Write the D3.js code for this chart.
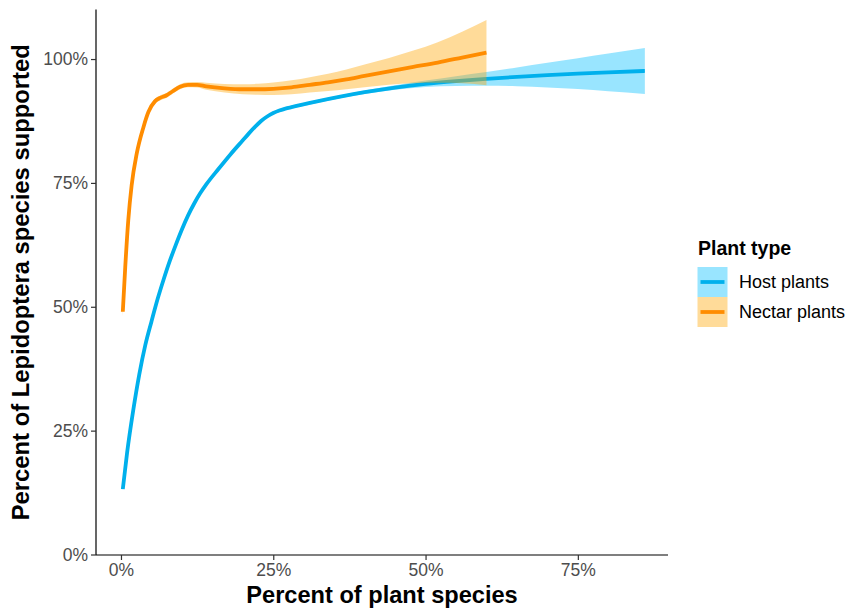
<!DOCTYPE html>
<html>
<head>
<meta charset="utf-8">
<script src="https://cdn.jsdelivr.net/npm/d3@7"></script>
<style>
  html, body { margin: 0; padding: 0; background: #fff; }
  svg { display: block; font-family: "Liberation Sans", Arial, Helvetica, sans-serif; }
</style>
</head>
<body>
<svg id="chart" width="852" height="610"></svg>
<script>
// ---- Data (percent values) ----
const hostX  = [0.3, 1, 2, 3, 4, 5, 6, 7, 8, 9, 10, 11, 12, 13, 14, 16, 18, 20, 21, 22, 23, 24, 25, 26, 27, 28, 32, 36, 40, 45, 50, 55, 60, 65, 70, 75, 80, 86];
const hostY  = [13.2, 20.5, 29, 36.3, 42.3, 47.0, 51.5, 55.5, 59.2, 62.5, 65.6, 68.4, 70.8, 72.9, 74.7, 77.8, 80.8, 83.6, 85.0, 86.3, 87.5, 88.4, 89.1, 89.6, 90.0, 90.3, 91.4, 92.4, 93.3, 94.25, 95.0, 95.55, 96.0, 96.4, 96.75, 97.05, 97.3, 97.6];
const hostLo = [12.9, 20.2, 28.7, 36.0, 42.0, 46.7, 51.2, 55.2, 58.9, 62.2, 65.3, 68.1, 70.5, 72.6, 74.4, 77.5, 80.5, 83.3, 84.7, 86.0, 87.2, 88.1, 88.8, 89.3, 89.7, 90.0, 91.1, 92.1, 92.95, 93.8, 94.35, 94.55, 94.6, 94.5, 94.25, 93.95, 93.5, 92.95];
const hostHi = [13.5, 20.8, 29.3, 36.6, 42.6, 47.3, 51.8, 55.8, 59.5, 62.8, 65.9, 68.7, 71.1, 73.2, 75.0, 78.1, 81.1, 83.9, 85.3, 86.6, 87.8, 88.7, 89.4, 89.9, 90.3, 90.6, 91.7, 92.7, 93.65, 94.7, 95.65, 96.55, 97.4, 98.3, 99.25, 100.15, 101.1, 102.25];

const nectarX  = [0.3, 0.7, 1.2, 1.75, 2.6, 3.7, 4.5, 5.6, 6.5, 7.5, 8.5, 9.7, 11, 12.5, 14, 17, 20, 22.5, 25, 28, 31, 34, 37, 40, 44, 48, 52, 56, 60];
const nectarY  = [49, 58, 67.5, 74.5, 81, 86.3, 89.3, 91.5, 92.2, 92.7, 93.5, 94.4, 94.8, 94.8, 94.5, 94.1, 93.9, 93.9, 94.0, 94.3, 94.8, 95.3, 95.9, 96.6, 97.5, 98.4, 99.3, 100.3, 101.3];
const nectarLo = [48.0, 57.2, 66.8, 73.9, 80.5, 85.8, 88.8, 91.0, 91.7, 92.2, 93.0, 93.9, 94.3, 94.25, 93.8, 93.25, 92.9, 92.8, 92.75, 92.9, 93.25, 93.55, 93.9, 94.3, 94.8, 95.1, 95.2, 95.1, 94.7];
const nectarHi = [50.0, 58.8, 68.2, 75.1, 81.5, 86.8, 89.8, 92.0, 92.7, 93.2, 94.0, 94.9, 95.3, 95.35, 95.2, 94.95, 94.9, 95.0, 95.25, 95.7, 96.35, 97.05, 97.9, 98.9, 100.2, 101.7, 103.4, 105.5, 107.9];

const seriesNames = ["Host plants", "Nectar plants"];
const xTicks = [0, 25, 50, 75];
const yTicks = [0, 25, 50, 75, 100];
const xDomain = [-4.1, 89.8];
const yDomain = [0, 110];

const lineColors = ["#00b0ec", "#ff8c00"];
const fillColors = ["#00bfff", "#ffa500"];

// ---- Build ----
const svg = d3.select("#chart");
const M = { left: 96, right: 668, top: 9.5, bottom: 555 };

const x = d3.scaleLinear().domain(xDomain).range([M.left, M.right]);
const y = d3.scaleLinear().domain(yDomain).range([554.5, M.top]);

const series = [
  { name: seriesNames[0], pts: hostX.map((v, i) => ({ x: v, y: hostY[i], lo: hostLo[i], hi: hostHi[i] })) },
  { name: seriesNames[1], pts: nectarX.map((v, i) => ({ x: v, y: nectarY[i], lo: nectarLo[i], hi: nectarHi[i] })) }
];

const area = d3.area().x(d => x(d.x)).y0(d => y(d.lo)).y1(d => y(d.hi)).curve(d3.curveMonotoneX);
const line = d3.line().x(d => x(d.x)).y(d => y(d.y)).curve(d3.curveMonotoneX);

const plot = svg.append("g");
series.forEach((s, i) => {
  plot.append("path").datum(s.pts).attr("d", area)
    .attr("fill", fillColors[i]).attr("fill-opacity", 0.4).attr("stroke", "none");
  plot.append("path").datum(s.pts).attr("d", line)
    .attr("fill", "none").attr("stroke", lineColors[i]).attr("stroke-width", 3.8)
    .attr("stroke-linejoin", "round");
});

// ---- Axes ----
const fmt = d => d + "%";
const xAxis = d3.axisBottom(x).tickValues(xTicks).tickFormat(fmt).tickSize(5).tickPadding(4);
const yAxis = d3.axisLeft(y).tickValues(yTicks).tickFormat(fmt).tickSize(5).tickPadding(3);

const gx = svg.append("g").attr("transform", `translate(0,${M.bottom})`).call(xAxis);
const gy = svg.append("g").attr("transform", `translate(${M.left},0)`).call(yAxis);

[gx, gy].forEach(g => {
  g.select(".domain").attr("stroke", "#000").attr("stroke-width", 1.2);
  g.selectAll(".tick line").attr("stroke", "#333").attr("stroke-width", 1.2);
  g.selectAll(".tick text").attr("fill", "#4d4d4d")
    .style("font-size", "17.5px").style("font-family", "'Liberation Sans', Arial, sans-serif");
});
gx.select(".domain").attr("d", `M${M.left},0H${M.right}`);
gy.select(".domain").attr("d", `M0,${M.top}V${M.bottom}`);

// ---- Axis titles ----
svg.append("text")
  .attr("x", (M.left + M.right) / 2).attr("y", 602.5)
  .attr("text-anchor", "middle").attr("font-weight", "bold")
  .attr("font-size", 23.6).attr("fill", "#000")
  .text("Percent of plant species");

svg.append("text")
  .attr("transform", `translate(28.5,${(M.top + M.bottom) / 2}) rotate(-90)`)
  .attr("text-anchor", "middle").attr("font-weight", "bold")
  .attr("font-size", 23.8).attr("fill", "#000")
  .text("Percent of Lepidoptera species supported");

// ---- Legend ----
const lg = svg.append("g").attr("transform", "translate(697.5,0)");
lg.append("text").attr("x", 0.5).attr("y", 255)
  .attr("font-weight", "bold").attr("font-size", 19.5).attr("fill", "#000")
  .text("Plant type");

seriesNames.forEach((n, i) => {
  const ky = 267 + i * 30;
  lg.append("rect").attr("x", 0).attr("y", ky).attr("width", 30).attr("height", 30)
    .attr("fill", fillColors[i]).attr("fill-opacity", 0.4);
  lg.append("line").attr("x1", 3).attr("x2", 27).attr("y1", ky + 15).attr("y2", ky + 15)
    .attr("stroke", lineColors[i]).attr("stroke-width", 3.8);
  lg.append("text").attr("x", 41.5).attr("y", ky + 15).attr("dy", "0.35em")
    .attr("font-size", 18).attr("fill", "#000").text(n);
});
</script>
</body>
</html>
